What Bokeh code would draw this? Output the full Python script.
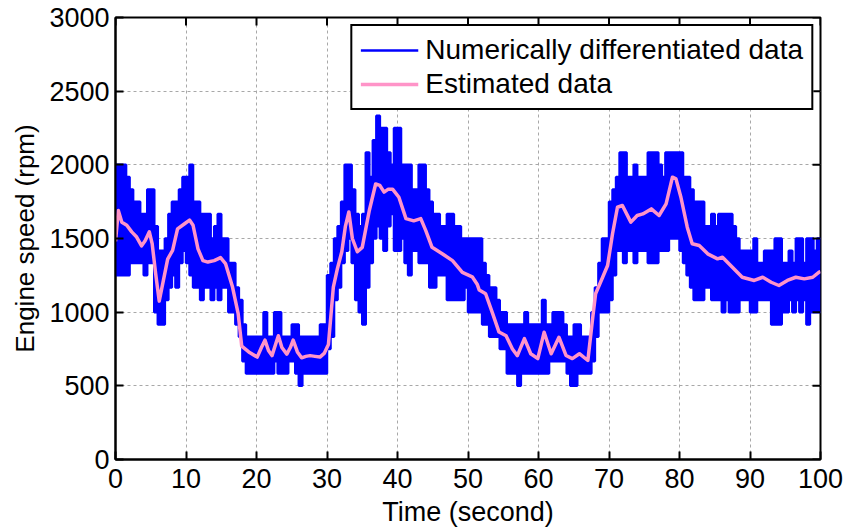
import numpy as np
from bokeh.plotting import figure
from bokeh.models import Range1d, FixedTicker, Legend, LegendItem
from bokeh.embed import file_html
from bokeh.resources import INLINE

# ---------------- data ----------------
x_ticks = [0, 10, 20, 30, 40, 50, 60, 70, 80, 90, 100]
y_ticks = [0, 500, 1000, 1500, 2000, 2500, 3000]

# numerically differentiated engine speed: upper / lower envelope every 0.5 s
t_env = np.arange(0, 100.5, 0.5)
blue_hi = [
    2000, 2000, 2000, 1917, 1833, 1750, 1750, 1667, 1667, 1833, 1833, 1583, 1417, 1417, 1500, 1667, 1750, 1750, 1833, 1917,
    1917, 2000, 1750, 1750, 1667, 1667, 1667, 1500, 1583, 1667, 1500, 1500, 1333, 1333, 1167, 1083, 917, 833, 833, 833,
    833, 833, 1000, 833, 833, 1000, 1000, 833, 833, 833, 917, 917, 833, 833, 833, 833, 833, 833, 917, 917,
    1250, 1333, 1500, 1583, 1750, 2000, 2000, 1833, 1667, 1583, 1667, 2083, 1917, 2167, 2333, 2250, 2250, 2083, 2000, 2250,
    2250, 2000, 2000, 2000, 1833, 1833, 2000, 2000, 1833, 1750, 1667, 1667, 1583, 1583, 1667, 1667, 1583, 1583, 1500, 1500,
    1500, 1500, 1500, 1500, 1333, 1250, 1167, 1167, 1083, 1000, 1000, 917, 917, 917, 917, 917, 1000, 917, 917, 917,
    917, 1083, 917, 917, 1000, 1000, 1000, 917, 833, 833, 917, 917, 833, 833, 833, 1000, 1167, 1333, 1500, 1500,
    1750, 1833, 1917, 2083, 2083, 1917, 1917, 2000, 1917, 1917, 1917, 2083, 2083, 2083, 2000, 1917, 2083, 2083, 2083, 2083,
    2083, 1917, 1917, 1833, 1750, 1750, 1750, 1583, 1583, 1667, 1583, 1667, 1667, 1667, 1667, 1583, 1500, 1417, 1417, 1417,
    1417, 1500, 1333, 1333, 1417, 1417, 1417, 1500, 1500, 1333, 1333, 1417, 1333, 1500, 1500, 1333, 1500, 1500, 1417, 1500,
    1500,
]
blue_lo = [
    1250, 1250, 1250, 1250, 1333, 1333, 1333, 1333, 1250, 1333, 1333, 1000, 917, 917, 1083, 1167, 1250, 1167, 1333, 1417,
    1333, 1250, 1167, 1167, 1083, 1167, 1167, 1083, 1167, 1083, 1167, 1167, 1000, 1000, 917, 833, 667, 583, 583, 583,
    583, 583, 583, 583, 583, 667, 583, 583, 583, 667, 667, 583, 500, 583, 583, 583, 583, 583, 583, 583,
    750, 833, 1083, 1167, 1333, 1417, 1500, 1333, 1083, 1000, 917, 1167, 1333, 1500, 1583, 1500, 1417, 1583, 1667, 1417,
    1417, 1500, 1333, 1250, 1417, 1417, 1333, 1333, 1333, 1167, 1167, 1250, 1250, 1250, 1083, 1083, 1083, 1083, 1083, 1167,
    1000, 1000, 1000, 1000, 917, 917, 833, 833, 833, 750, 750, 583, 583, 583, 500, 583, 583, 583, 583, 583,
    583, 583, 583, 667, 667, 667, 667, 667, 583, 500, 500, 583, 583, 583, 583, 667, 833, 1000, 1000, 1000,
    1083, 1250, 1417, 1417, 1333, 1417, 1417, 1333, 1417, 1417, 1417, 1333, 1333, 1333, 1417, 1417, 1417, 1500, 1500, 1500,
    1417, 1333, 1250, 1167, 1083, 1083, 1083, 1167, 1167, 1083, 1083, 1083, 1000, 1083, 1000, 1000, 1000, 1083, 1083, 1083,
    1000, 1000, 1083, 1083, 1083, 1083, 917, 917, 917, 1000, 1000, 1083, 1000, 1083, 1000, 1083, 917, 1000, 1000, 1000,
    1000,
]

# estimated engine speed
pink_t = [0.0, 0.4, 0.9, 1.6, 2.3, 3.0, 3.7, 4.2, 4.8, 5.2, 5.7, 6.2, 6.6, 7.4, 8.1, 8.8, 9.8, 10.5, 11.0, 11.7,
          12.4, 13.1, 14.0, 14.9, 15.6, 16.6, 17.4, 17.9, 18.9, 20.1, 20.7, 21.2, 21.7, 22.2, 22.7, 23.1, 23.6, 24.3, 24.8, 25.2,
          25.8, 26.4, 27.0, 27.6, 28.3, 29.0, 29.6, 30.2, 30.9, 31.5, 32.1, 32.6, 33.1, 33.6, 34.3, 35.0, 36.0, 36.9, 37.5, 38.1,
          38.7, 39.3, 40.2, 41.2, 42.3, 43.3, 44.0, 44.9, 46.4, 47.8, 49.2, 50.6, 51.3, 51.6, 52.5, 53.5, 54.4, 55.4, 56.3, 57.0,
          58.0, 58.9, 59.9, 60.8, 61.8, 62.9, 63.9, 64.8, 65.8, 67.0, 67.7, 68.1, 69.1, 69.8, 70.5, 71.2, 71.9, 73.1, 74.0, 74.8,
          76.0, 77.1, 78.1, 79.0, 79.5, 80.2, 81.1, 81.8, 82.8, 84.0, 85.4, 86.1, 87.5, 88.9, 90.6, 91.8, 93.0, 94.1, 95.3, 96.5,
          97.7, 98.9, 99.8, 100.0]
pink_v = [1480, 1690, 1610, 1590, 1545, 1510, 1450, 1485, 1545, 1465, 1260, 1075, 1170, 1360, 1420, 1565, 1600, 1625, 1590, 1430,
          1350, 1340, 1350, 1370, 1330, 1170, 990, 770, 730, 695, 760, 810, 740, 705, 780, 840, 760, 715, 760, 810,
          730, 690, 700, 705, 700, 695, 720, 780, 1170, 1300, 1410, 1580, 1680, 1500, 1410, 1440, 1690, 1870, 1860, 1815,
          1835, 1835, 1780, 1635, 1620, 1635, 1555, 1440, 1395, 1350, 1270, 1240, 1190, 1150, 1125, 990, 865, 840, 750, 705,
          820, 718, 685, 864, 718, 830, 706, 685, 718, 672, 966, 1125, 1237, 1317, 1532, 1712, 1724, 1611, 1656, 1667,
          1701, 1656, 1735, 1916, 1905, 1780, 1577, 1464, 1452, 1396, 1362, 1373, 1305, 1237, 1215, 1237, 1203, 1181, 1215, 1237,
          1226, 1237, 1271, 1275]

# ---------------- styling ----------------
FONT = "Liberation Sans"
BLUE = "#0000ff"
PINK = "#ff94c8"
X_MIN, X_MAX = 0, 100
Y_MIN, Y_MAX = 0, 3000

p = figure(width=848, height=529, output_backend="svg", toolbar_location=None,
           x_range=Range1d(X_MIN, X_MAX), y_range=Range1d(Y_MIN, Y_MAX),
           min_border_left=115, min_border_right=28, min_border_top=17, min_border_bottom=70)
p.outline_line_color = "black"
p.outline_line_width = 2
p.outline_line_alpha = 1.0
p.background_fill_color = "white"
p.border_fill_color = "white"

p.xgrid.ticker = FixedTicker(ticks=x_ticks)
p.ygrid.ticker = FixedTicker(ticks=y_ticks)
for g in (p.xgrid, p.ygrid):
    g.grid_line_color = "#a8a8a8"
    g.grid_line_dash = "3 3"
    g.grid_line_width = 1

p.varea_step(x=t_env, y1=blue_lo, y2=blue_hi, step_mode="after", fill_color=BLUE, fill_alpha=1.0)
hi_line = p.step(t_env, blue_hi, mode="after", line_color=BLUE, line_width=2.5)
p.step(t_env, blue_lo, mode="after", line_color=BLUE, line_width=2.5)
pink_line = p.line(pink_t, pink_v, line_color=PINK, line_width=3.5, line_join="round")

# inward ticks on the top and right sides of the box
p.ray(x=x_ticks, y=[Y_MAX] * len(x_ticks), length=8, length_units="screen",
      angle=-np.pi / 2, line_color="black", line_width=2)
p.ray(x=[X_MAX] * len(y_ticks), y=y_ticks, length=8, length_units="screen",
      angle=np.pi, line_color="black", line_width=2)

def style_axis(ax, ticks):
    ax.ticker = FixedTicker(ticks=ticks)
    ax.axis_line_color = "black"
    ax.axis_line_width = 2
    ax.major_tick_line_color = "black"
    ax.major_tick_line_width = 2
    ax.major_tick_in = 8
    ax.major_tick_out = 0
    ax.minor_tick_line_color = None
    ax.major_label_text_font = FONT
    ax.major_label_text_color = "black"
    ax.major_label_text_font_size = "27px"
    ax.axis_label_text_font = FONT
    ax.axis_label_text_font_style = "normal"
    ax.axis_label_text_color = "black"

xa = p.xaxis[0]
ya = p.yaxis[0]
style_axis(xa, x_ticks)
style_axis(ya, y_ticks)
xa.axis_label = "Time (second)"
ya.axis_label = "Engine speed (rpm)"
xa.axis_label_text_font_size = "27px"
ya.axis_label_text_font_size = "26px"
xa.major_label_standoff = 9
xa.axis_label_standoff = 6
ya.major_label_standoff = 6
ya.axis_label_standoff = 6

legend = Legend(items=[LegendItem(label="Numerically differentiated data", renderers=[hi_line]),
                       LegendItem(label="Estimated data", renderers=[pink_line])],
                location="top_right")
legend.label_text_font = FONT
legend.label_text_font_size = "28px"
legend.label_text_color = "black"
legend.glyph_width = 58
legend.glyph_height = 24
legend.label_height = 24
legend.label_standoff = 7
legend.padding = 8
legend.spacing = 2
legend.margin = 7
legend.border_line_color = "black"
legend.border_line_width = 2
legend.border_line_alpha = 1.0
legend.background_fill_color = "white"
legend.background_fill_alpha = 1.0
p.add_layout(legend)

open("out.html", "w").write(file_html(p, INLINE))
